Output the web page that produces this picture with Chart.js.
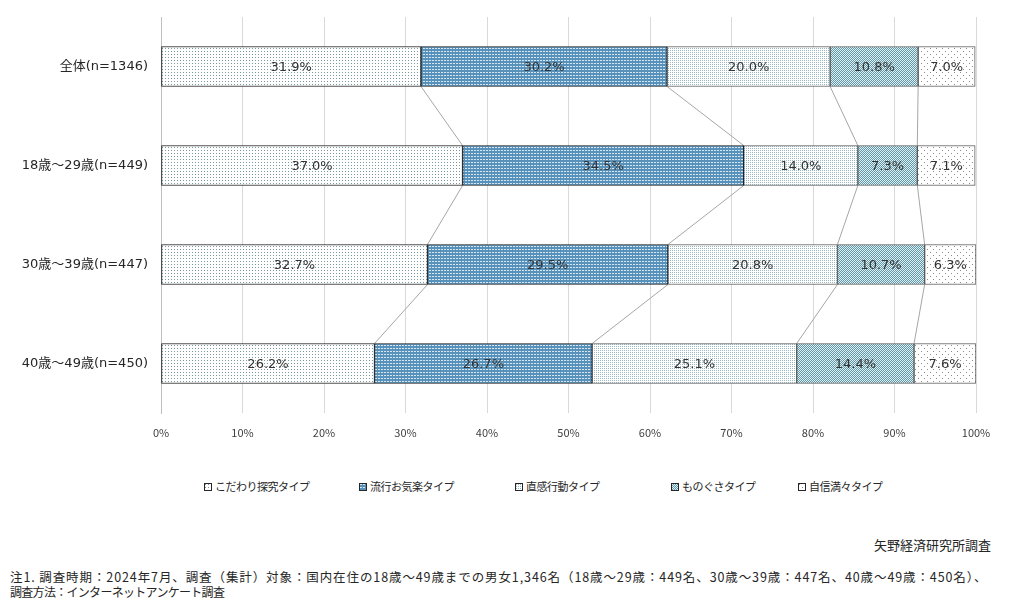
<!DOCTYPE html>
<html>
<head>
<meta charset="utf-8">
<script src="https://cdn.jsdelivr.net/npm/chart.js@4/dist/chart.umd.min.js"></script>
<style>
  html, body { margin: 0; padding: 0; background: #fff; }
  #wrap { position: relative; width: 1014px; height: 616px; }
  #c { position: absolute; left: 0; top: 0; }
  .src { position: absolute; right: 23px; top: 535px; font: 13px "Noto Sans CJK JP", sans-serif; color: #262626; }
  .note { position: absolute; left: 10px; font: 12.5px "Noto Sans CJK JP", sans-serif; color: #262626; white-space: nowrap; }
  .lg { position: absolute; top: 478px; height: 16px; font: 11px "Noto Sans CJK JP", sans-serif; color: #262626; white-space: nowrap; letter-spacing: -0.5px; line-height: 16px; }
  .lg i { display: inline-block; width: 6px; height: 6px; border: 1px solid #262626; vertical-align: middle; margin-right: 3px; position: relative; top: -1px; }
</style>
</head>
<body>
<div id="wrap">
  <canvas id="c" width="1014" height="453"></canvas>
  <div id="legend"></div>
  <div class="src">矢野経済研究所調査</div>
  <div class="note" style="top:567px; letter-spacing:0.9px">注1. 調査時期：2024年7月、調査（集計）対象：国内在住の18歳～49歳までの男女1,346名（18歳～29歳：449名、30歳～39歳：447名、40歳～49歳：450名）、</div>
  <div class="note" style="top:583px; font-size:12px; letter-spacing:-0.7px">調査方法：インターネットアンケート調査</div>
</div>
<script>
const categories = ['全体(n=1346)', '18歳～29歳(n=449)', '30歳～39歳(n=447)', '40歳～49歳(n=450)'];
const seriesNames = ['こだわり探究タイプ', '流行お気楽タイプ', '直感行動タイプ', 'ものぐさタイプ', '自信満々タイプ'];
const kodawari = [31.9, 37.0, 32.7, 26.2];
const ryuko    = [30.2, 34.5, 29.5, 26.7];
const chokkan  = [20.0, 14.0, 20.8, 25.1];
const monogusa = [10.8, 7.3, 10.7, 14.4];
const jishin   = [7.0, 7.1, 6.3, 7.6];
const xTicks = [0, 10, 20, 30, 40, 50, 60, 70, 80, 90, 100];

function makeTile(size, bg, fg, dots) {
  const cv = document.createElement('canvas');
  cv.width = size; cv.height = size;
  const cx = cv.getContext('2d');
  cx.fillStyle = bg; cx.fillRect(0, 0, size, size);
  cx.fillStyle = fg;
  dots.forEach(d => cx.fillRect(d[0], d[1], d[2] || 1, d[3] || 1));
  return cv;
}
const ctx = document.getElementById('c').getContext('2d');
const tiles = [
  makeTile(3, '#ffffff', '#7797a3', [[0,0]]),
  makeTile(3, '#5892bb', '#d6e7f1', [[0,0,2,1]]),
  makeTile(2, '#ffffff', '#9bb9c3', [[0,0]]),
  makeTile(2, '#5f9aaa', '#e2eef1', [[0,0],[1,1]]),
  makeTile(6, '#ffffff', '#8c8c8c', [[0,0],[3,3]])
];
const patterns = tiles.map(t => ctx.createPattern(t, 'repeat'));
const borders = ['#1a1a1a', '#1a1a1a', '#595959', '#595959', '#595959'];
const seriesData = [kodawari, ryuko, chokkan, monogusa, jishin];

const datasets = seriesData.map((d, i) => ({
  label: seriesNames[i],
  data: d,
  backgroundColor: patterns[i],
  borderColor: borders[i],
  borderWidth: 1,
  borderSkipped: false,
  barThickness: 40
}));

// HTML legend
const legendX = [204, 359, 515, 671, 798];
const lgRoot = document.getElementById('legend');
seriesNames.forEach((n, i) => {
  const d = document.createElement('div');
  d.className = 'lg';
  d.style.left = legendX[i] + 'px';
  const box = document.createElement('i');
  box.style.backgroundImage = 'url(' + tiles[i].toDataURL() + ')';
  d.appendChild(box);
  d.appendChild(document.createTextNode(n));
  lgRoot.appendChild(d);
});

const seriesLines = {
  id: 'seriesLines',
  beforeDatasetsDraw(chart) {
    const c = chart.ctx;
    c.save();
    c.strokeStyle = '#a6a6a6';
    c.lineWidth = 1;
    for (let k = 0; k < 4; k++) {
      const meta = chart.getDatasetMeta(k);
      for (let i = 0; i < meta.data.length - 1; i++) {
        const a = meta.data[i], b = meta.data[i + 1];
        c.beginPath();
        c.moveTo(a.x, a.y + a.height / 2);
        c.lineTo(b.x, b.y - b.height / 2);
        c.stroke();
      }
    }
    c.restore();
  }
};

const barLabels = {
  id: 'barLabels',
  afterDatasetsDraw(chart) {
    const c = chart.ctx;
    c.save();
    c.font = '13px "DejaVu Sans", sans-serif';
    c.fillStyle = '#333333';
    c.textAlign = 'center';
    c.textBaseline = 'middle';
    chart.data.datasets.forEach((ds, k) => {
      chart.getDatasetMeta(k).data.forEach((el, i) => {
        const cx = (el.x + el.base) / 2;
        c.fillText(ds.data[i].toFixed(1) + '%', cx, el.y + 1);
      });
    });
    c.restore();
  }
};

new Chart(ctx, {
  type: 'bar',
  data: { labels: categories, datasets },
  options: {
    indexAxis: 'y',
    responsive: false,
    animation: false,
    layout: { padding: { top: 17, left: 10, right: 38, bottom: 0 } },
    scales: {
      x: {
        stacked: true,
        min: 0, max: 100,
        afterBuildTicks(scale) { scale.ticks = xTicks.map(v => ({ value: v })); },
        afterFit(scale) { scale.height = 40; scale.paddingLeft = 0; scale.paddingRight = 0; },
        grid: { color: '#d9d9d9', drawTicks: false, lineWidth: 1 },
        border: { display: false },
        ticks: {
          padding: 13,
          color: '#404040',
          font: { family: '"Noto Sans CJK JP", sans-serif', size: 11 },
          callback: v => v + '%'
        }
      },
      y: {
        stacked: true,
        afterFit(scale) { scale.width = 151; scale.paddingTop = 0; scale.paddingBottom = 0; },
        grid: { display: false, drawTicks: false },
        border: { display: true, color: '#bfbfbf' },
        ticks: {
          padding: 13,
          color: '#262626',
          font: { family: '"DejaVu Sans", "Noto Sans CJK JP", sans-serif', size: 13 }
        }
      }
    },
    plugins: {
      legend: { display: false },
      tooltip: { enabled: false }
    }
  },
  plugins: [seriesLines, barLabels]
});
</script>
</body>
</html>
